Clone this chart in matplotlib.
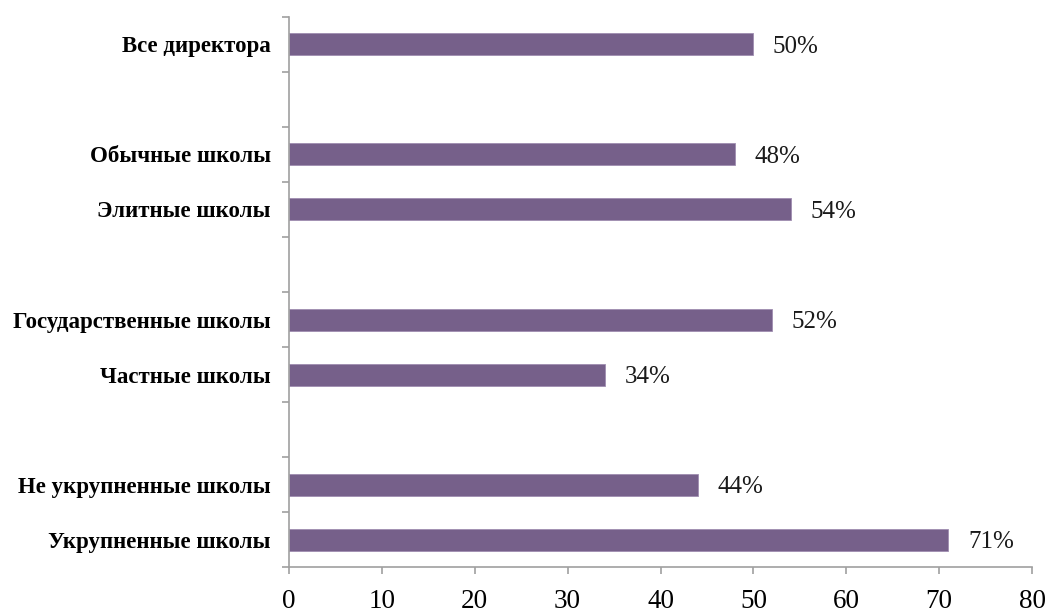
import numpy as np
import matplotlib.pyplot as plt

# категории сверху вниз, пустые строки - промежутки между группами
categories = ['Все директора', '', 'Обычные школы', 'Элитные школы', '',
              'Государственные школы', 'Частные школы', '',
              'Не укрупненные школы', 'Укрупненные школы']
values = [50, np.nan, 48, 54, np.nan, 52, 34, np.nan, 44, 71]
xticks = [0, 10, 20, 30, 40, 50, 60, 70, 80]

plt.rcParams['font.family'] = ['Liberation Serif', 'DejaVu Serif']

fig = plt.figure(figsize=(10.5, 6.13), dpi=100)
ax = fig.add_axes([0.2752, 0.075, 0.7077, 0.8973])

pos = np.arange(len(categories))[::-1]
ax.barh(pos, values, height=0.4, color='#76608A', edgecolor='#9F8DB0', linewidth=0.6)

for p, v in zip(pos, values):
    if not np.isnan(v):
        ax.text(v + 2.1, p - 0.04, f'{v:.0f}%', va='center', ha='left', fontsize=18, color='#1a1a1a')

ax.set_xlim(0, 80)
ax.set_ylim(-0.5, len(categories) - 0.5)
ax.set_xticks(xticks)
ax.set_xticklabels([str(t) for t in xticks], fontsize=19.5)

# тики-разделители на оси Y, подписи отдельно
ax.set_yticks(np.arange(len(categories) + 1) - 0.5)
ax.set_yticklabels([])
ax.set_yticks(pos, minor=True)
ax.set_yticklabels(categories, minor=True, fontsize=16.5, fontweight='bold')
ax.tick_params(axis='y', which='minor', length=0, pad=13)
ax.tick_params(axis='both', which='major', length=5, color='#A0A0A0', width=1.2)
ax.tick_params(axis='x', pad=11)

for s in ['top', 'right']:
    ax.spines[s].set_visible(False)
for s in ['left', 'bottom']:
    ax.spines[s].set_color('#A0A0A0')
    ax.spines[s].set_linewidth(1.2)

fig.savefig('out.png', dpi=100)
